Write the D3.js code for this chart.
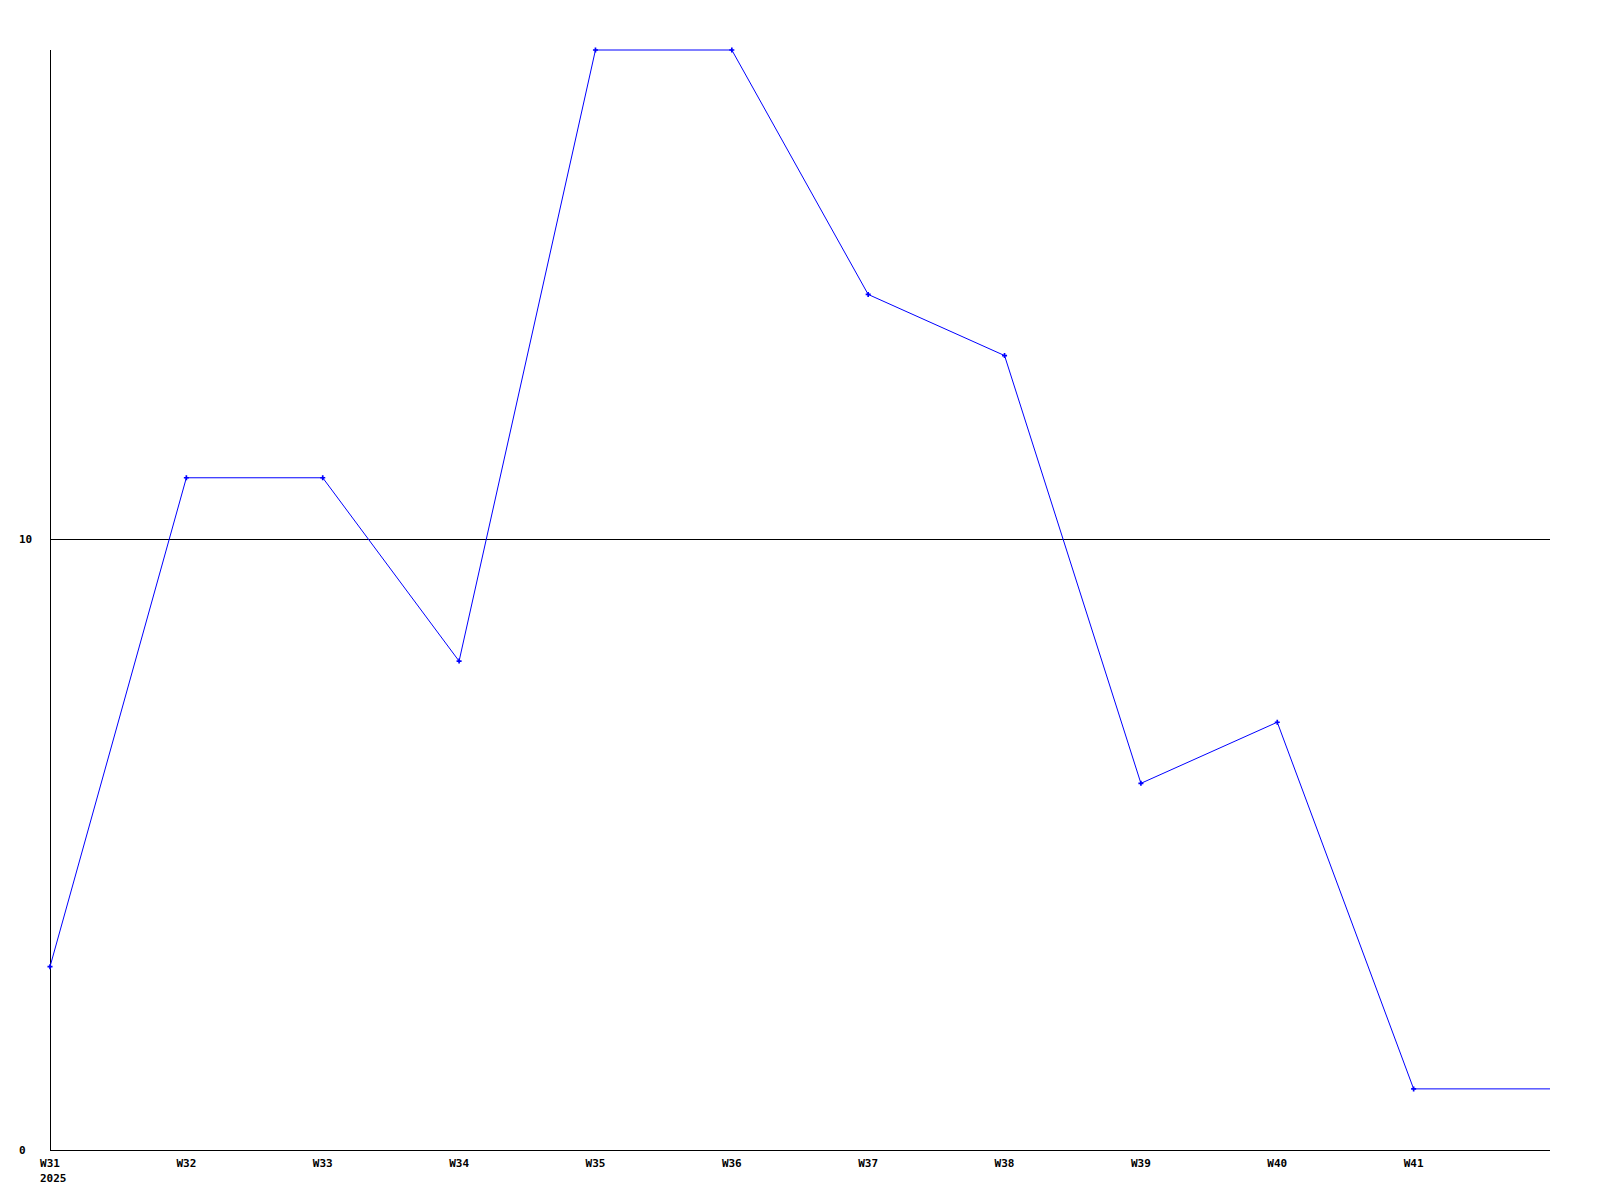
<!DOCTYPE html>
<html>
<head>
<meta charset="utf-8">
<script src="https://cdn.jsdelivr.net/npm/d3@7"></script>
<style>
  body { margin: 0; background: #fff; }
  text { font-family: "DejaVu Sans Mono", "Liberation Mono", monospace; font-weight: bold; font-size: 11px; fill: #000; }
</style>
</head>
<body>
<svg id="chart" width="1600" height="1200"></svg>
<script>
// Week labels on the x axis
const weeks = ['W31', 'W32', 'W33', 'W34', 'W35', 'W36', 'W37', 'W38', 'W39', 'W40', 'W41'];
const yearLabel = '2025';

// Weekly counts (last value runs on to the right edge, current week)
const values = [3, 11, 11, 8, 18, 18, 14, 13, 6, 7, 1, 1];

// Y ticks shown
const yTicks = [0, 10];
const yMax = 18;

const svg = d3.select('#chart');

// Plot area
const plotLeft = 50, plotRight = 1550, plotTop = 50, plotBottom = 1150;

const x = d3.scaleLinear().domain([0, values.length - 1]).range([plotLeft, plotRight]);
const y = d3.scaleLinear().domain([0, yMax]).range([plotBottom, plotTop]);

// Horizontal reference lines (skip 0, the axis itself)
svg.append('g')
  .selectAll('line')
  .data(yTicks.filter(d => d > 0))
  .join('line')
    .attr('x1', plotLeft).attr('x2', plotRight)
    .attr('y1', d => Math.round(y(d)) + 0.5).attr('y2', d => Math.round(y(d)) + 0.5)
    .attr('stroke', '#000').attr('stroke-width', 1);

// Y labels
svg.append('g')
  .selectAll('text')
  .data(yTicks)
  .join('text')
    .attr('x', 19)
    .attr('y', d => y(d))
    .attr('dy', '0.35em')
    .text(d => d);

// Axes lines
svg.append('line')
  .attr('x1', plotLeft + 0.5).attr('x2', plotLeft + 0.5)
  .attr('y1', plotTop).attr('y2', plotBottom)
  .attr('stroke', '#000');
svg.append('line')
  .attr('x1', plotLeft).attr('x2', plotRight)
  .attr('y1', plotBottom + 0.5).attr('y2', plotBottom + 0.5)
  .attr('stroke', '#000');

// X labels
svg.append('g')
  .selectAll('text')
  .data(weeks)
  .join('text')
    .attr('x', (d, i) => x(i))
    .attr('y', plotBottom + 17)
    .attr('text-anchor', 'middle')
    .text(d => d);

svg.append('text')
  .attr('x', x(0) - 10)
  .attr('y', plotBottom + 32)
  .text(yearLabel);

// Data line
const line = d3.line()
  .x((d, i) => x(i))
  .y(d => y(d));

svg.append('path')
  .datum(values)
  .attr('d', line)
  .attr('fill', 'none')
  .attr('stroke', '#0000ff')
  .attr('stroke-width', 1);

// Point markers for the labelled weeks
svg.append('g')
  .selectAll('path')
  .data(values.slice(0, weeks.length))
  .join('path')
    .attr('transform', (d, i) => `translate(${x(i)},${y(d)})`)
    .attr('d', d3.symbol(d3.symbolCross, 14))
    .attr('fill', '#0000ff');
</script>
</body>
</html>
